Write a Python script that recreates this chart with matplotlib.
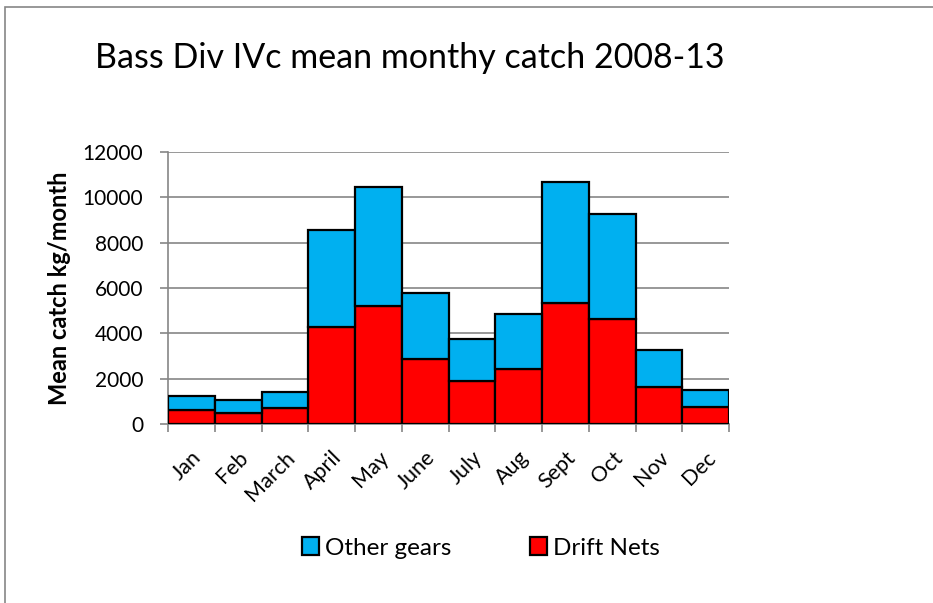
import matplotlib.pyplot as plt
import numpy as np
from matplotlib.patches import Rectangle

plt.rcParams['font.family'] = ['Lato', 'DejaVu Sans']

# Monthly mean catch (kg/month).
months = ['Jan', 'Feb', 'March', 'April', 'May', 'June',
          'July', 'Aug', 'Sept', 'Oct', 'Nov', 'Dec']
drift_nets = [635, 503, 706, 4279, 5206, 2868, 1884, 2427, 5355, 4633, 1633, 737]
totals = [1235, 1045, 1412, 8576, 10443, 5766, 3750, 4870, 10693, 9251, 3282, 1487]
other_gears = [t - d for t, d in zip(totals, drift_nets)]

fig = plt.figure(figsize=(9.33, 6.03), dpi=100)
ax = fig.add_axes([168 / 933, 1 - 424 / 603, (729 - 168) / 933, (424 - 152) / 603])

x = np.arange(len(months))
ax.bar(x, drift_nets, width=1.0, color='#ff0000', edgecolor='black', linewidth=1.6,
       label='Drift Nets', zorder=3)
ax.bar(x, other_gears, width=1.0, bottom=drift_nets, color='#00b0f0', edgecolor='black',
       linewidth=1.6, label='Other gears', zorder=3)

ax.set_xlim(-0.5, len(months) - 0.5)
ax.set_ylim(0, 12000)
ax.set_yticks(np.arange(0, 12001, 2000))
ax.tick_params(axis='y', labelsize=15, length=6, width=1.2, color='#868686', pad=12)
ax.yaxis.grid(True, color='#868686', linewidth=1.2, zorder=0)

ax.set_xticks(x)
ax.set_xticklabels(months, rotation=45, ha='right', rotation_mode='anchor', fontsize=15.5)
ax.set_xticks(np.arange(-0.5, len(months)), minor=True)
ax.tick_params(axis='x', which='major', length=0, pad=17)
ax.tick_params(axis='x', which='minor', length=6, width=1.2, color='#868686')

for side in ['top', 'right']:
    ax.spines[side].set_visible(False)
for side in ['left', 'bottom']:
    ax.spines[side].set_color('#868686')
    ax.spines[side].set_linewidth(1.2)

ax.set_ylabel('Mean catch kg/month', fontsize=17, fontweight='bold', labelpad=8)

fig.text(95 / 933, 1 - 58 / 603, 'Bass Div IVc mean monthy catch 2008-13',
         fontsize=24.5, va='center', ha='left')

handles, labels = ax.get_legend_handles_labels()
fig.legend(handles[::-1], labels[::-1], loc='center', bbox_to_anchor=(481 / 933, 1 - 548 / 603),
           ncol=2, frameon=False, fontsize=17.5, handlelength=0.7, handleheight=0.7,
           columnspacing=3.2, handletextpad=0.25)

# Chart border.
fig.patches.append(Rectangle((5 / 933, -0.1), 1.2, 1 - 7 / 603 + 0.1, transform=fig.transFigure,
                             fill=False, edgecolor='#868686', linewidth=1.2))

fig.savefig('out.png', dpi=100)
